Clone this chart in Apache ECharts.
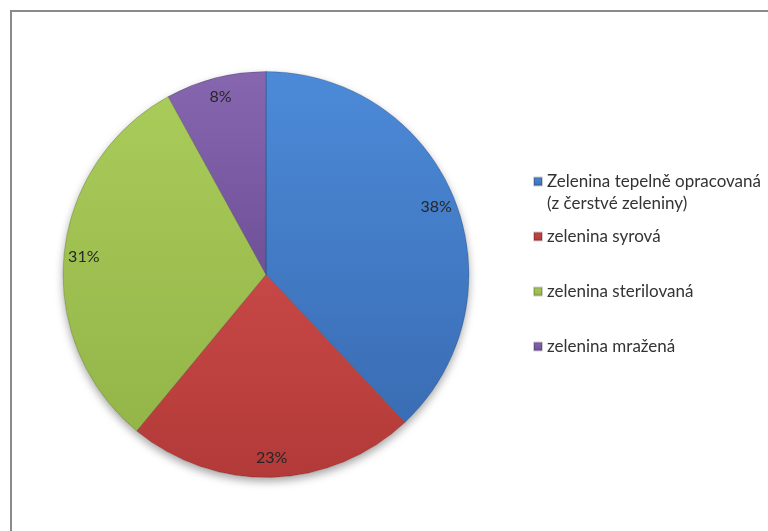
<!DOCTYPE html>
<html>
<head>
<meta charset="utf-8">
<script src="https://cdn.jsdelivr.net/npm/echarts@6/dist/echarts.min.js"></script>
<style>
  html, body { margin: 0; padding: 0; background: #ffffff; }
  #chart { width: 768px; height: 531px; }
</style>
</head>
<body>
<div id="chart"></div>
<script>
// Podíl jednotlivých druhů zeleniny
const categories = [
  'Zelenina tepelně opracovaná\n(z čerstvé zeleniny)',
  'zelenina syrová',
  'zelenina sterilovaná',
  'zelenina mražená'
];
const shares = [38, 23, 31, 8];

// top / bottom shades of each slice
const topColors = ['#4c8ad8', '#c74846', '#a9cb5a', '#8766b0'];
const bottomColors = ['#3a6db4', '#b23a38', '#94b548', '#6f5198'];

const pieCenter = [266, 274.5];
const pieRadius = 203;

function grad(i) {
  return new echarts.graphic.LinearGradient(0, 0, 0, 1, [
    { offset: 0, color: topColors[i] },
    { offset: 1, color: bottomColors[i] }
  ]);
}

const sliceData = categories.map((name, i) => ({
  name: name,
  value: shares[i],
  itemStyle: { color: grad(i) }
}));

const labelData = categories.map((name, i) => ({ name: name, value: shares[i] }));

// every legend entry is three lines tall with its first text line centred on the marker
function legendText(name) {
  const lines = name.split('\n');
  return ' \n' + lines[0] + '\n' + (lines[1] || ' ');
}

const chart = echarts.init(document.getElementById('chart'), null, { renderer: 'canvas' });

chart.setOption({
  backgroundColor: '#ffffff',
  animation: false,
  graphic: [{
    type: 'rect',
    shape: { x: 11, y: 11, width: 800, height: 600 },
    style: { fill: 'none', stroke: '#8a8a8a', lineWidth: 2 },
    silent: true,
    z: -10
  }],
  legend: {
    orient: 'vertical',
    left: 533,
    top: 148.5,
    padding: 0,
    itemGap: -11,
    itemWidth: 8,
    itemHeight: 8,
    icon: 'rect',
    selectedMode: false,
    formatter: legendText,
    textStyle: {
      fontFamily: 'Lato',
      fontSize: 17,
      color: '#333333',
      lineHeight: 22
    },
    data: categories
  },
  series: [
    {
      // soft drop shadow under the pie
      type: 'pie',
      center: pieCenter,
      radius: pieRadius,
      silent: true,
      label: { show: false },
      labelLine: { show: false },
      itemStyle: {
        color: '#ffffff',
        shadowBlur: 8,
        shadowOffsetY: 4,
        shadowColor: 'rgba(0,0,0,0.35)'
      },
      data: [{ name: '', value: 1 }],
      legendHoverLink: false,
      z: 1
    },
    {
      type: 'pie',
      center: pieCenter,
      radius: pieRadius,
      startAngle: 90,
      clockwise: true,
      label: { show: false },
      labelLine: { show: false },
      itemStyle: {
        borderColor: 'rgba(0,0,0,0.18)',
        borderWidth: 1
      },
      emphasis: { disabled: true },
      data: sliceData,
      z: 2
    },
    {
      // percentage labels placed near the rim
      type: 'pie',
      center: pieCenter,
      radius: [157, pieRadius],
      startAngle: 90,
      clockwise: true,
      silent: true,
      itemStyle: { color: 'rgba(0,0,0,0)' },
      label: {
        show: true,
        position: 'inside',
        formatter: '{c}%',
        fontFamily: 'Lato',
        fontSize: 16,
        color: '#262626'
      },
      labelLine: { show: false },
      emphasis: { disabled: true },
      data: labelData,
      z: 3
    }
  ]
});
</script>
</body>
</html>
